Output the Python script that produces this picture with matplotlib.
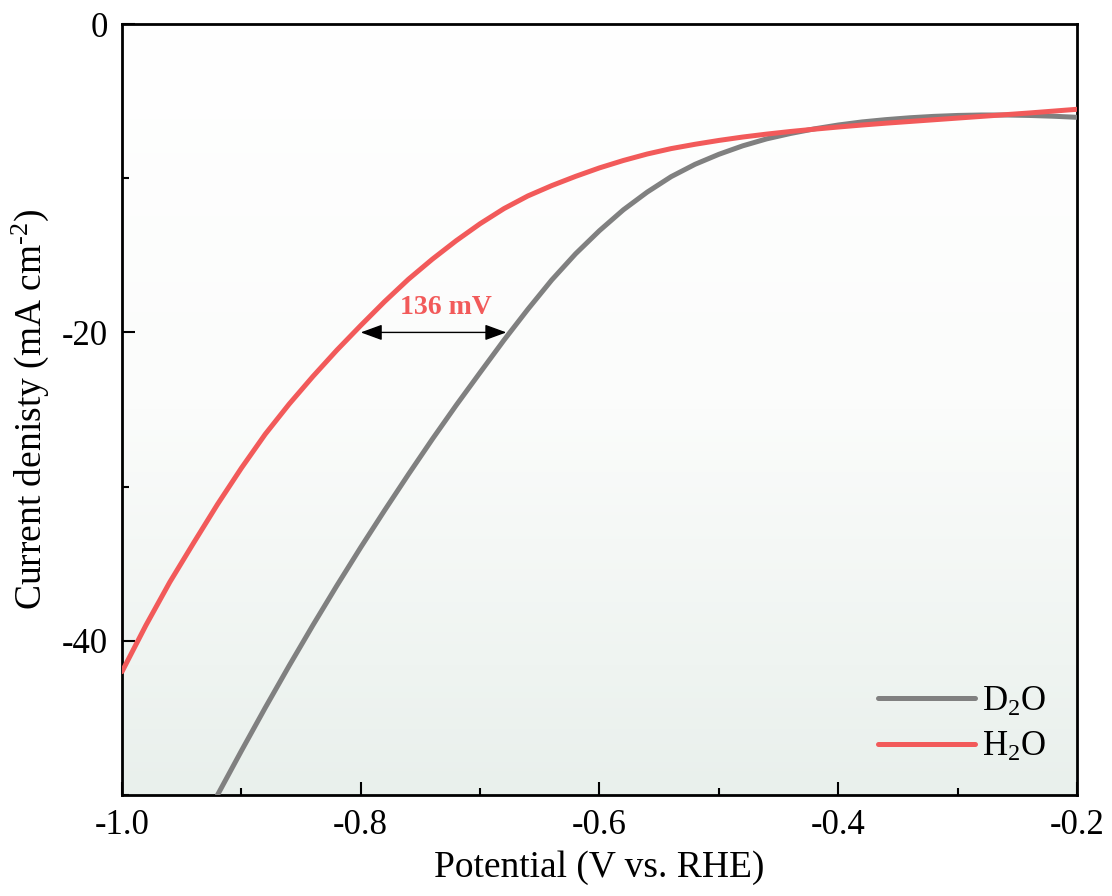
import matplotlib
matplotlib.use('Agg')
import matplotlib.pyplot as plt
import numpy as np
from matplotlib.colors import LinearSegmentedColormap
from matplotlib.ticker import MultipleLocator

# ── 数据（从图中读取，步长 0.02 V）────────────────────────────────
h2o_v = [-1.00, -0.98, -0.96, -0.94, -0.92, -0.90, -0.88, -0.86, -0.84,
         -0.82, -0.80, -0.78, -0.76, -0.74, -0.72, -0.70, -0.68, -0.66,
         -0.64, -0.62, -0.60, -0.58, -0.56, -0.54, -0.52, -0.50, -0.48,
         -0.46, -0.44, -0.42, -0.40, -0.38, -0.36, -0.34, -0.32, -0.30,
         -0.28, -0.26, -0.24, -0.22, -0.20]
h2o_j = [-42.0, -39.0, -36.2, -33.65, -31.15, -28.8, -26.6, -24.65, -22.85,
         -21.15, -19.55, -18.0, -16.55, -15.25, -14.05, -12.95, -11.97, -11.15,
         -10.48, -9.88, -9.33, -8.85, -8.43, -8.08, -7.8, -7.55, -7.33,
         -7.14, -6.97, -6.82, -6.68, -6.55, -6.43, -6.32, -6.21, -6.1,
         -5.99, -5.88, -5.77, -5.65, -5.53]

d2o_v = [-0.92, -0.90, -0.88, -0.86, -0.84, -0.82, -0.80, -0.78, -0.76,
         -0.74, -0.72, -0.70, -0.68, -0.66, -0.64, -0.62, -0.60, -0.58,
         -0.56, -0.54, -0.52, -0.50, -0.48, -0.46, -0.44, -0.42, -0.40,
         -0.38, -0.36, -0.34, -0.32, -0.30, -0.28, -0.26, -0.24, -0.22,
         -0.20]
d2o_j = [-50.0, -47.14, -44.34, -41.62, -38.98, -36.42, -33.94, -31.54, -29.2,
         -26.92, -24.72, -22.6, -20.5, -18.5, -16.6, -14.9, -13.4, -12.05,
         -10.9, -9.9, -9.1, -8.45, -7.9, -7.45, -7.1, -6.8, -6.55,
         -6.35, -6.2, -6.08, -5.99, -5.93, -5.9, -5.9, -5.93, -5.98,
         -6.05]

gap_start, gap_end, gap_j = -0.80, -0.678, -20.0
gap_label = '136 mV'

# ── 样式 ───────────────────────────────────────────────────────────
GRAY = '#808080'
RED = '#f25a5a'
plt.rcParams['font.family'] = ['Liberation Serif', 'DejaVu Serif']
plt.rcParams['mathtext.fontset'] = 'custom'
plt.rcParams['mathtext.rm'] = 'Liberation Serif'
plt.rcParams['mathtext.default'] = 'regular'
plt.rcParams['axes.unicode_minus'] = False

fig = plt.figure(figsize=(11.12, 8.96), dpi=100)
ax = fig.add_axes([0.1097, 0.1127, 0.8588, 0.8605])

# 背景渐变：上白下浅灰绿
cmap = LinearSegmentedColormap.from_list('bg', ['#ffffff', '#fbfcfb', '#e9f0ec'])
grad = np.linspace(0, 1, 256).reshape(-1, 1)
ax.imshow(grad, extent=[0, 1, 0, 1], transform=ax.transAxes, cmap=cmap,
          aspect='auto', origin='upper', zorder=0)

ax.plot(d2o_v, d2o_j, color=GRAY, lw=3.6, label='D$_2$O', zorder=3,
        solid_capstyle='round', solid_joinstyle='round')
ax.plot(h2o_v, h2o_j, color=RED, lw=3.6, label='H$_2$O', zorder=3,
        solid_capstyle='round', solid_joinstyle='round')

# 过电位差箭头
ax.annotate('', xy=(gap_start, gap_j), xytext=(gap_end, gap_j),
            arrowprops=dict(arrowstyle='<|-|>,head_length=0.6,head_width=0.22',
                            color='black', lw=1.0,
                            mutation_scale=22, shrinkA=0, shrinkB=0),
            zorder=4)
ax.text((gap_start + gap_end) / 2 + 0.01, gap_j + 0.8, gap_label,
        color=RED, fontsize=20, fontweight='bold', ha='center', va='bottom')

ax.set_xlim(-1.0, -0.2)
ax.set_ylim(-50, 0)
ax.xaxis.set_major_locator(MultipleLocator(0.2))
ax.xaxis.set_minor_locator(MultipleLocator(0.1))
ax.yaxis.set_major_locator(MultipleLocator(20))
ax.yaxis.set_minor_locator(MultipleLocator(10))
ax.xaxis.set_major_formatter(plt.FuncFormatter(lambda v, _: f'{v:.1f}'))
ax.yaxis.set_major_formatter(plt.FuncFormatter(lambda v, _: f'{v:.0f}'))

ax.tick_params(which='both', direction='in', labelsize=25, width=1.5,
               top=False, right=False)
ax.tick_params(which='major', length=9.5, pad=10)
ax.tick_params(which='minor', length=5)
for sp in ax.spines.values():
    sp.set_linewidth(2)

ax.set_xlabel('Potential (V vs. RHE)', fontsize=27, labelpad=6)
ax.set_ylabel('Current denisty (mA cm$^{\u20102}$)', fontsize=27, labelpad=8)

ax.legend(loc='lower right', frameon=False, fontsize=25, handlelength=2.8,
          handletextpad=0.2, labelspacing=0.35, borderaxespad=0.5)

fig.savefig('out.png', dpi=100)
